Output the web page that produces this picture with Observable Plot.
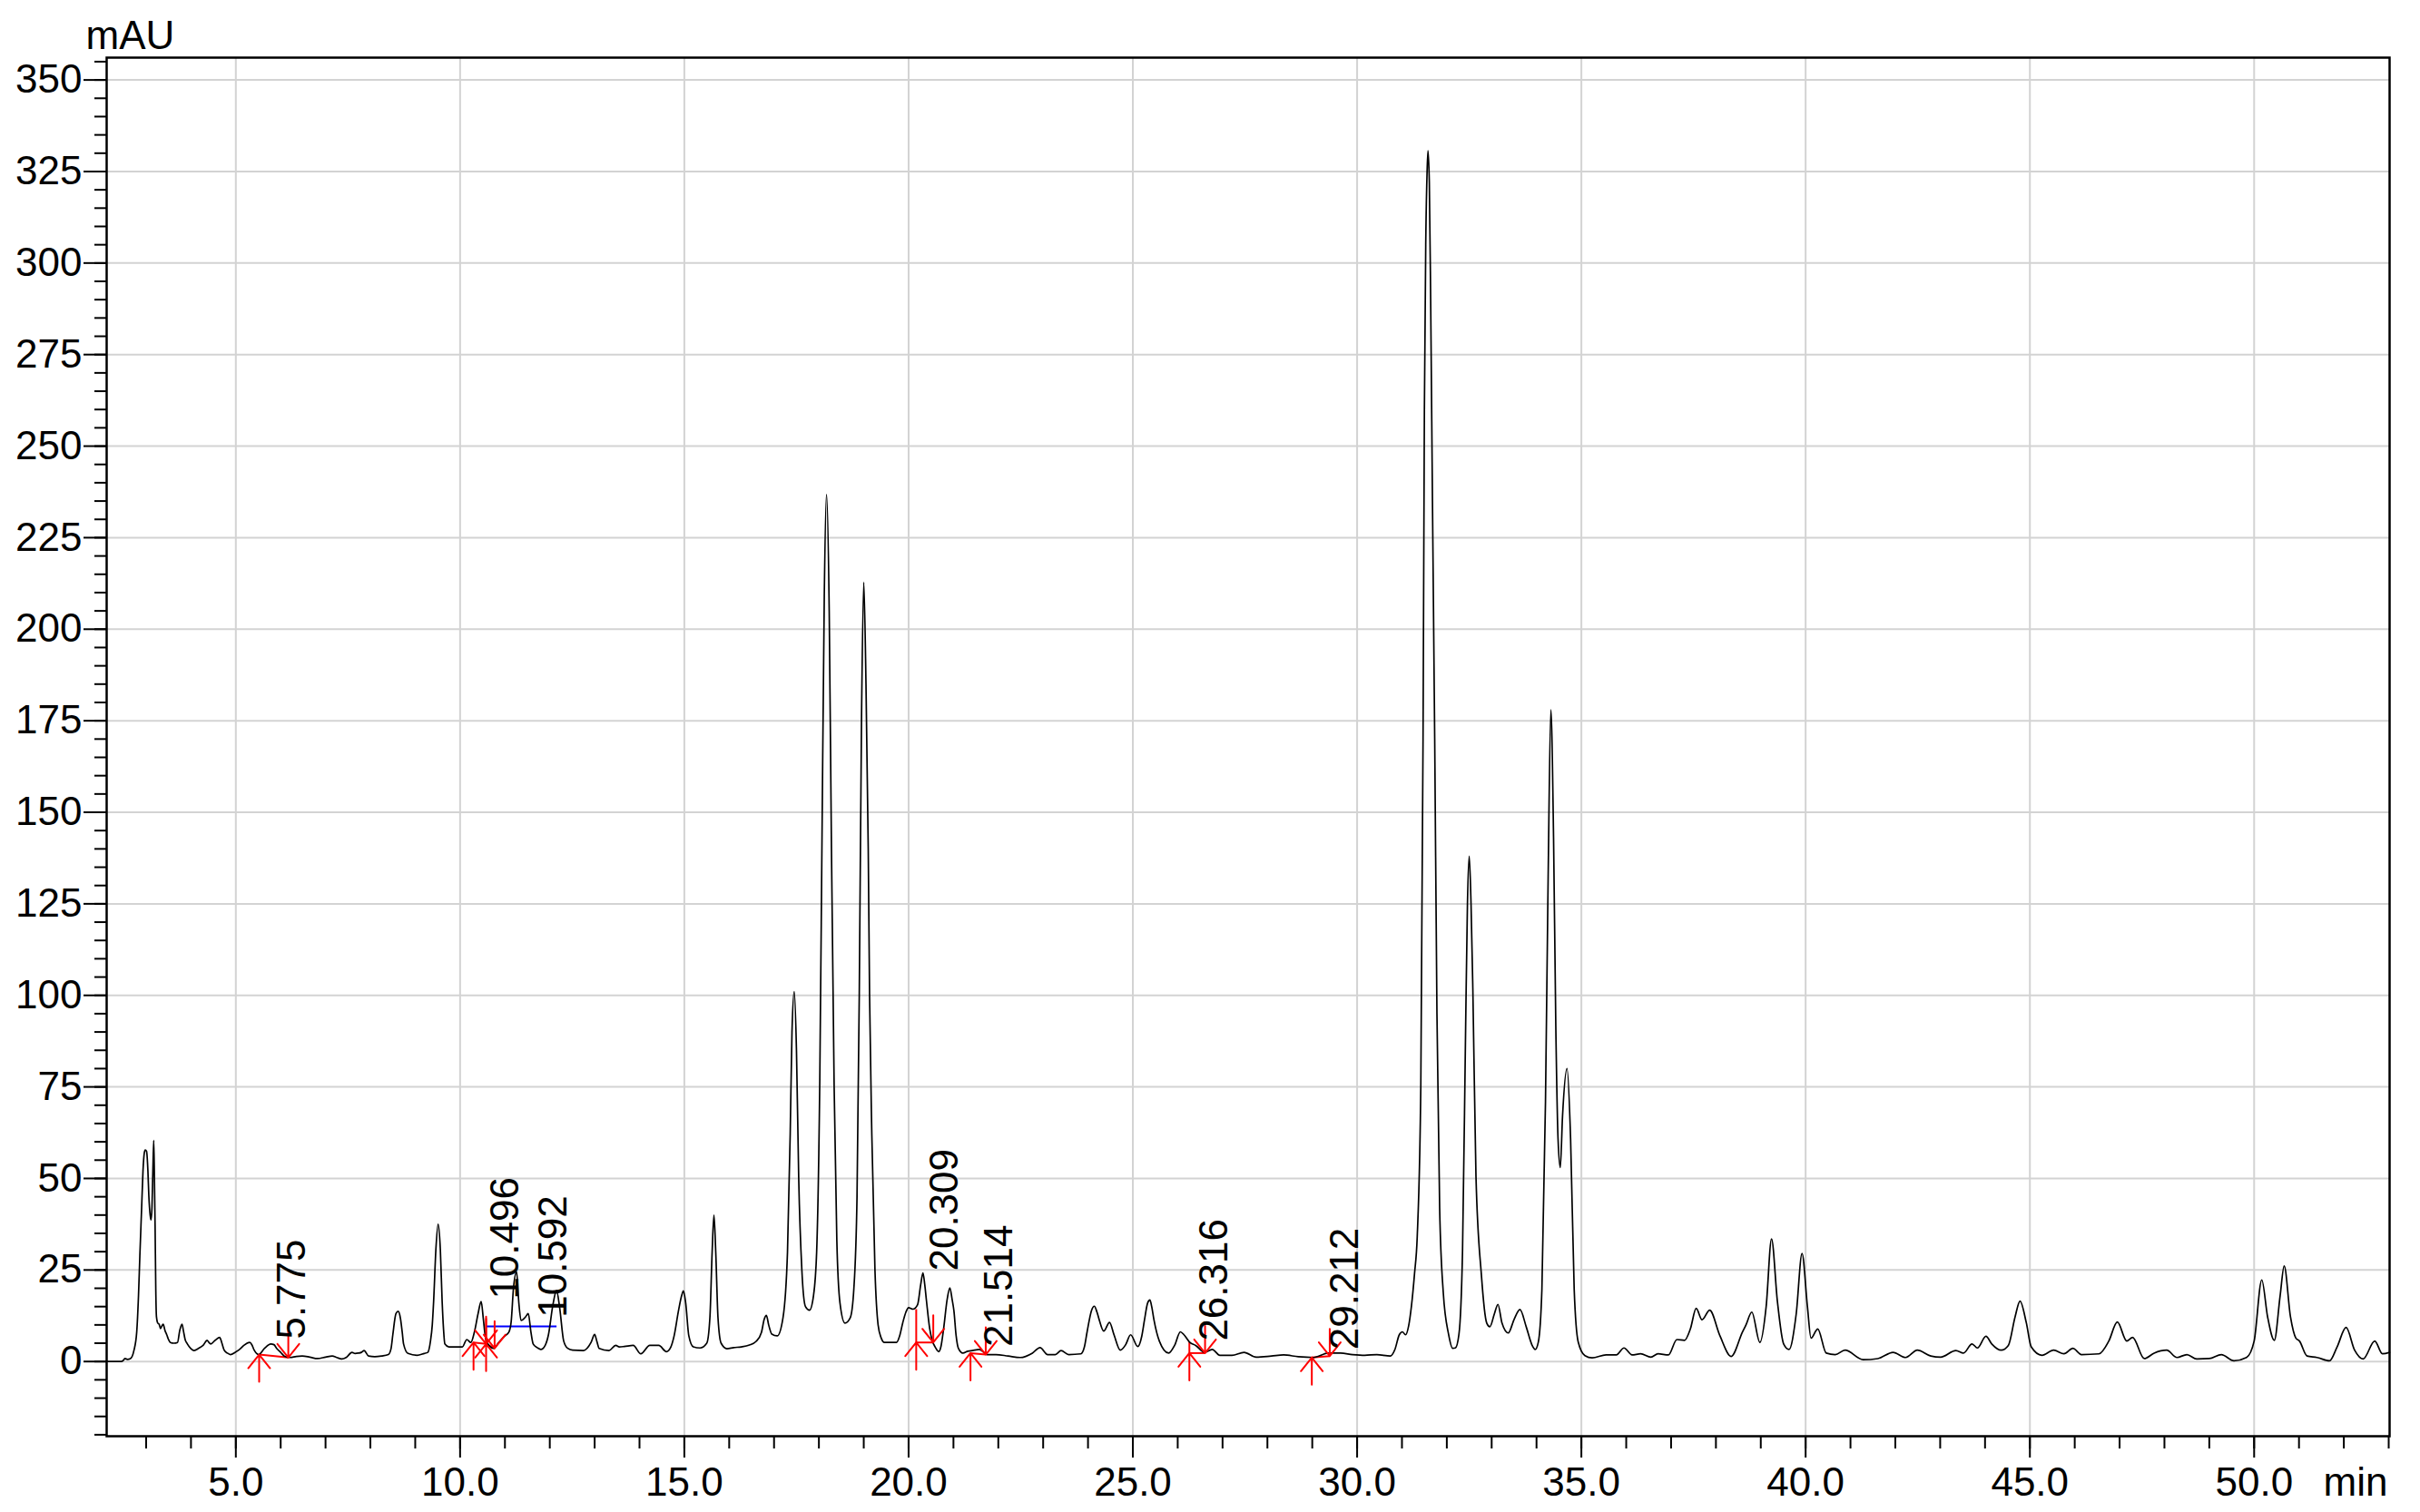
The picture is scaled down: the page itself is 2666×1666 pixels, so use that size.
<!DOCTYPE html>
<html><head><meta charset="utf-8">
<script src="https://cdn.jsdelivr.net/npm/d3@7"></script>
<script src="https://cdn.jsdelivr.net/npm/@observablehq/plot@0.6"></script>
<style>html,body{margin:0;padding:0;background:#fff;overflow:hidden}</style>
</head><body><div id="chart"></div>
<script>
// Chromatogram trace: retention time (min) and absorbance (mAU)
const traceTime = [
 2.12,2.45,2.49,2.53,2.58,2.65,2.73,2.79,2.83,2.86,2.90,2.93,2.96,2.98,3.01,3.04,3.06,3.09,3.11,3.13,3.15,3.17,3.185,3.20,3.215,3.23,3.26,3.29,3.32,3.34,3.38,3.42,3.46,3.50,3.54,3.62,3.70,3.75,3.80,3.83,3.87,3.92,4.00,4.07,4.17,4.27,4.36,4.40,4.44,4.54,4.64,4.69,4.74,4.81,4.88,5.01,5.10,5.18,5.31,5.36,5.41,5.51,5.64,5.78,5.85,5.91,6.00,6.08,6.21,6.35,6.48,6.65,6.82,7.00,7.15,7.25,7.36,7.46,7.59,7.66,7.73,7.80,7.86,7.96,8.10,8.25,8.40,8.46,8.50,8.57,8.62,8.67,8.71,8.74,8.84,9.04,9.20,9.28,9.34,9.38,9.41,9.46,9.51,9.56,9.60,9.63,9.66,9.75,9.92,10.05,10.15,10.24,10.32,10.40,10.47,10.52,10.56,10.60,10.75,10.86,10.99,11.09,11.14,11.19,11.26,11.31,11.36,11.46,11.52,11.58,11.63,11.72,11.80,11.90,11.97,12.07,12.15,12.22,12.31,12.40,12.51,12.75,12.92,13.00,13.05,13.10,13.32,13.47,13.55,13.66,13.86,14.03,14.23,14.43,14.60,14.70,14.77,14.87,14.94,14.98,15.03,15.10,15.20,15.35,15.50,15.57,15.62,15.66,15.70,15.75,15.82,15.95,16.10,16.27,16.45,16.60,16.72,16.78,16.83,16.88,16.95,17.07,17.20,17.30,17.36,17.40,17.45,17.50,17.55,17.62,17.70,17.79,17.88,17.95,18.02,18.07,18.12,18.17,18.23,18.28,18.34,18.40,18.47,18.58,18.70,18.78,18.85,18.90,18.95,19.00,19.05,19.10,19.13,19.18,19.25,19.32,19.39,19.46,19.60,19.73,19.80,19.87,19.94,20.00,20.10,20.20,20.27,20.32,20.36,20.40,20.47,20.53,20.60,20.67,20.72,20.78,20.86,20.92,20.97,21.01,21.06,21.11,21.21,21.32,21.42,21.58,21.75,21.95,22.22,22.49,22.76,22.93,23.10,23.27,23.40,23.57,23.84,23.92,23.98,24.08,24.14,24.20,24.25,24.35,24.48,24.58,24.72,24.84,24.95,25.11,25.20,25.26,25.33,25.38,25.42,25.47,25.59,25.80,25.93,26.06,26.14,26.27,26.40,26.60,26.77,26.94,27.21,27.48,27.75,28.09,28.36,28.69,29.03,29.36,29.63,29.90,30.17,30.44,30.74,30.84,30.94,31.01,31.08,31.15,31.21,31.28,31.34,31.42,31.47,31.50,31.53,31.56,31.58,31.61,31.64,31.68,31.73,31.78,31.84,31.92,32.04,32.13,32.19,32.27,32.35,32.42,32.46,32.50,32.54,32.58,32.65,32.77,32.89,32.96,33.06,33.14,33.23,33.37,33.50,33.63,33.77,33.90,33.97,34.04,34.12,34.20,34.26,34.32,34.38,34.43,34.48,34.53,34.58,34.68,34.76,34.84,34.93,35.08,35.24,35.55,35.78,35.95,36.13,36.32,36.55,36.71,36.94,37.13,37.30,37.43,37.56,37.69,37.86,38.09,38.34,38.59,38.67,38.80,38.98,39.12,39.24,39.37,39.51,39.63,39.79,39.92,40.04,40.12,40.27,40.46,40.66,40.88,41.28,41.61,41.95,42.23,42.49,42.79,43.01,43.35,43.52,43.71,43.83,44.02,44.15,44.36,44.52,44.67,44.78,44.92,45.03,45.27,45.53,45.76,45.96,46.15,46.54,46.76,46.95,47.16,47.29,47.55,47.77,48.05,48.28,48.50,48.72,49.00,49.27,49.55,49.83,50.00,50.17,50.30,50.45,50.58,50.67,50.81,50.93,51.01,51.18,51.40,51.68,51.85,52.05,52.24,52.43,52.69,52.86,53.02
];
const traceSignal = [
 0,0,0.3,0.8,0.6,0.8,3.1,8,18,28.8,42,52,57,57.8,57.4,52,45.4,40,38.7,42,52,60.4,50,37,20,12.3,10.5,10.2,9.0,9.4,10.2,8.5,7.3,6.0,5.2,5.0,5.2,8.5,10.2,8.5,6.0,4.8,3.5,3.0,3.6,4.4,5.8,5.2,4.8,5.8,6.6,5.0,3.1,2.3,1.9,2.7,3.5,4.4,5.2,4.5,3.1,1.9,3.6,4.8,4.6,3.6,2.5,1.5,1.1,1.4,1.5,1.2,0.8,1.2,1.5,1.1,0.7,1.1,2.5,2.2,2.3,2.5,3.0,1.5,1.3,1.5,1.9,3.5,7.3,13.1,13.7,11.8,8.0,4.8,2.2,1.7,2.2,2.5,5.6,10,16.4,30.5,37.5,30.5,16.4,9,4.8,4.0,4.0,4.0,6.0,5.2,8.1,13,16.4,11.4,7,5.2,3.6,5.2,6.9,8.1,11,20,24.5,16,11.2,12.2,13.1,8,4.8,3.8,3.3,4.5,7.3,15.5,19.4,14.7,5.6,3.6,3.1,3.0,5.2,7.4,5.5,3.6,3.0,4.4,4.0,4.1,4.4,2.1,4.4,4.4,2.7,4,6.9,13.9,18,19.3,16,7,4,3.7,5,12,30,40,30,12,5,3.5,3.8,4,4.5,5.5,8,11.5,12.6,10,7.5,7,12,30,62,90,101,85,50,25,15,14,18,30,77,144,209,236.8,205,140,75,33,16,10.5,12,20,45,100,175,212.8,185,140,100,62,25,10,6.4,5.2,5.2,5.2,7,10.6,13.5,14.7,14.3,15.5,21,24.2,21,16.4,9,5.6,3.8,2.7,4,8.9,17,20.1,17,13.9,7,3.6,2.3,2.8,3.0,3.3,1.9,1.9,1.5,1.1,2.3,3.8,1.9,1.9,3.0,1.9,2.1,4,8.1,14,15.1,13.5,11.4,8.3,10.7,7.3,3.1,4.6,7.3,4.1,7,11.4,16,16.8,15,11.4,5.6,2.3,4.4,8.1,7.3,5.2,4.4,2.5,3.3,1.7,1.7,2.5,1.2,1.5,1.8,1.3,1.1,2.3,2.3,1.9,1.7,1.9,1.5,3.2,7.3,8.1,7.3,9.8,15,24,34,75,170,260,305,325,330.7,322,290,235,170,95,42,19,7.4,3.6,3.7,7.4,30,91.7,125,138,125,102,50.6,23.8,10.5,9.5,13,15.6,10.5,7.8,11.5,14.2,9.5,4.5,3.3,5.3,19.7,71,133,178,143,91.7,60.8,53,67,80,60.8,19.7,5.3,1.6,1.0,1.8,1.8,3.7,1.8,2.1,1.2,2.1,1.8,6.0,5.8,8.9,14.5,11.4,14,7,1.4,8,10,13.5,5.2,15,33.5,16.5,4.8,3.3,13,29.5,15,6.4,8.9,2.3,1.9,3.1,0.5,0.8,2.5,1.1,3.1,1.5,1.2,3.0,2.3,4.8,3.7,6.9,4.8,3.1,4.4,12.2,16.5,10.6,4.0,1.7,3.1,2.1,3.6,1.9,2.1,5.6,10.8,5.6,6.6,0.8,2.3,3.1,1.1,1.9,0.7,0.8,1.9,0.2,1.1,5.6,22.3,12.2,5.8,18.0,26.1,12.2,6.4,5.6,1.5,1.1,0.2,4.0,9.3,3.1,0.7,5.6,2.1,2.5
];

// Integration markers (red): start = up arrow, end = down arrow
const markerTime  = [5.52, 6.17, 10.30, 10.58, 10.58, 10.77, 20.17, 20.55, 21.38, 21.72, 26.26, 26.61, 28.99, 29.39];
const markerLevel = [1.9, 1.1, 5.2, 4.8, 4.8, 3.6, 5.2, 5.2, 2.3, 1.9, 2.3, 2.3, 1.1, 1.5];
const markerKind  = ["start","end","start","end","start","end","start","end","start","end","start","end","start","end"];

// Drop lines from baseline point up to the trace
const dropTime = [10.58, 20.17, 26.26];
const dropFrom = [4.8, 5.2, 2.3];
const dropTo   = [11.8, 14.3, 5.4];

// Blue baseline segment
const blueStart = [10.58], blueEnd = [12.15], blueLevel = [9.6];

// Peak labels
const peakLabels = ["5.775","10.496","10.592","20.309","21.514","26.316","29.212"];
const labelTime  = [6.26, 11.02, 12.08, 20.81, 22.03, 26.82, 29.73];
const labelLevel = [6.1, 17.0, 12.0, 24.7, 4.0, 5.6, 3.2];

// Axis ticks
const xMajor = d3.range(5, 51, 5);
const xMinor = d3.range(3, 54, 1);
const yMajor = d3.range(0, 351, 25);
const yMinor = d3.range(-20, 356, 5);

const trace = traceTime.map((t, i) => ({t, v: traceSignal[i]}));
const markers = markerTime.map((t, i) => ({t, v: markerLevel[i], kind: markerKind[i]}));
const baselines = [];
for (let i = 0; i < markers.length; i += 2) baselines.push({x1: markers[i].t, y1: markers[i].v, x2: markers[i+1].t, y2: markers[i+1].v});
const drops = dropTime.map((t, i) => ({t, a: dropFrom[i], b: dropTo[i]}));
const blue = blueStart.map((s, i) => ({s, e: blueEnd[i], v: blueLevel[i]}));
const labels = peakLabels.map((s, i) => ({s, t: labelTime[i], v: labelLevel[i]}));

const arrowShape = {
  draw(ctx, l) {
    ctx.moveTo(0, 0); ctx.lineTo(0, -l);
    ctx.moveTo(-12, -l + 15); ctx.lineTo(0, -l); ctx.lineTo(12, -l + 15);
  }
};

const font = "'Liberation Sans', Arial, Helvetica, sans-serif";
const chart = Plot.plot({
  width: 2666, height: 1666,
  marginLeft: 117, marginRight: 34, marginTop: 63, marginBottom: 84,
  style: {fontFamily: font, fontSize: "44px", background: "white", color: "black", overflow: "visible"},
  x: {domain: [2.12, 53.02], label: null},
  y: {domain: [-20.4, 356.1], label: null},
  marks: [
    Plot.gridX(xMajor, {stroke: "#d3d3d3", strokeOpacity: 1, strokeWidth: 2}),
    Plot.gridY(yMajor, {stroke: "#d3d3d3", strokeOpacity: 1, strokeWidth: 2}),
    Plot.axisX(xMinor, {tickSize: 14, tickFormat: () => "", label: null, strokeWidth: 2}),
    Plot.axisX(xMajor, {tickSize: 24, tickPadding: 10, tickFormat: d3.format(".1f"), label: null, strokeWidth: 2, fontSize: 44}),
    Plot.axisY(yMinor, {tickSize: 13, tickFormat: () => "", label: null, strokeWidth: 2}),
    Plot.axisY(yMajor, {tickSize: 25, tickPadding: 2, tickFormat: d3.format("d"), label: null, strokeWidth: 2, fontSize: 44}),
    Plot.frame({stroke: "black", strokeWidth: 2.5}),
    Plot.link(baselines, {x1: "x1", y1: "y1", x2: "x2", y2: "y2", stroke: "red", strokeWidth: 2}),
    Plot.link(drops, {x1: "t", x2: "t", y1: "a", y2: "b", stroke: "red", strokeWidth: 2}),
    Plot.link(blue, {x1: "s", x2: "e", y1: "v", y2: "v", stroke: "blue", strokeWidth: 2}),
    Plot.line(trace, {x: "t", y: "v", curve: "monotone-x", stroke: "black", strokeWidth: 1.7}),
    Plot.vector(markers, {x: "t", y: "v", rotate: d => d.kind === "start" ? 0 : 180, length: 30, anchor: "end", shape: arrowShape, stroke: "red", strokeWidth: 2}),
    Plot.text(labels, {x: "t", y: "v", text: "s", rotate: -90, textAnchor: "start", fontSize: 44, fill: "black"}),
    Plot.text(["mAU"], {frameAnchor: "top-left", text: d => d, textAnchor: "start", lineAnchor: "bottom", dx: -23, dy: -10, fontSize: 44}),
    Plot.text(["min"], {frameAnchor: "bottom-right", text: d => d, textAnchor: "end", lineAnchor: "bottom", dx: -2, dy: 65, fontSize: 44})
  ]
});
document.getElementById("chart").appendChild(chart);
</script>
</body></html>
